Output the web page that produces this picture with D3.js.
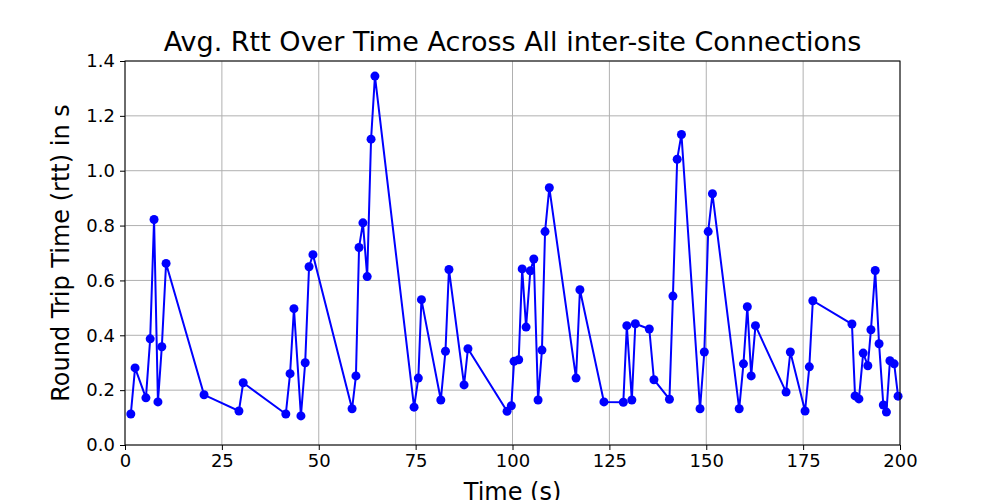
<!DOCTYPE html>
<html><head><meta charset="utf-8">
<script src="https://cdn.jsdelivr.net/npm/d3@7"></script>
<style>body{margin:0;background:#fff}text{font-family:"DejaVu Sans",sans-serif}</style>
</head><body><svg id="c" width="1000" height="500"></svg>
<script>
const times=[1.5,2.6,5.4,6.5,7.5,8.5,9.5,10.6,20.4,29.4,30.5,41.5,42.6,43.6,45.4,46.5,47.5,48.5,58.6,59.6,60.4,61.4,62.5,63.5,64.5,
74.6,75.7,76.5,81.5,82.7,83.6,87.5,88.5,98.6,99.7,100.4,101.6,102.5,103.5,104.6,105.5,106.6,107.6,108.4,109.5,116.4,117.4,123.6,128.6,129.5,130.8,131.7,135.3,
136.5,140.5,141.4,142.5,143.6,148.4,149.5,150.5,151.6,158.5,159.6,160.6,161.6,162.7,170.6,171.7,175.5,176.6,177.5,187.6,188.4,189.4,190.5,191.7,192.5,193.6,194.6,195.7,196.5,197.4,198.5,199.5];
const rtt=[0.113,0.281,0.172,0.387,0.822,0.157,0.358,0.662,0.183,0.124,0.227,0.113,0.26,0.497,0.106,0.30,0.65,0.694,0.132,0.252,0.72,0.81,0.614,1.115,1.345,
0.138,0.244,0.530,0.164,0.342,0.64,0.219,0.351,0.123,0.143,0.305,0.311,0.642,0.43,0.635,0.678,0.164,0.346,0.778,0.938,0.244,0.566,0.157,0.156,0.435,0.164,0.442,0.423,
0.238,0.167,0.543,1.042,1.132,0.132,0.339,0.778,0.916,0.132,0.296,0.504,0.252,0.435,0.193,0.339,0.124,0.285,0.526,0.441,0.179,0.168,0.335,0.289,0.42,0.636,0.369,0.146,0.12,0.307,0.296,0.178];
const xTicks=[0,25,50,75,100,125,150,175,200];
const yTicks=[0,0.2,0.4,0.6,0.8,1.0,1.2,1.4];
const svg=d3.select("#c");
const L=125,R=900,T=61,B=445;
const x=d3.scaleLinear().domain([0,200]).range([L,R]);
const y=d3.scaleLinear().domain([0,1.4]).range([B,T]);
const g=svg.append("g");
g.selectAll(".gx").data(xTicks).join("line").attr("x1",d=>x(d)).attr("x2",d=>x(d)).attr("y1",T).attr("y2",B).attr("stroke","#b0b0b0").attr("stroke-width",1);
g.selectAll(".gy").data(yTicks).join("line").attr("y1",d=>y(d)).attr("y2",d=>y(d)).attr("x1",L).attr("x2",R).attr("stroke","#b0b0b0").attr("stroke-width",1);
const data=times.map((t,i)=>[t,rtt[i]]);
svg.append("path").datum(data).attr("d",d3.line().x(d=>x(d[0])).y(d=>y(d[1]))).attr("fill","none").attr("stroke","#0000ff").attr("stroke-width",2);
svg.selectAll("circle").data(data).join("circle").attr("cx",d=>x(d[0])).attr("cy",d=>y(d[1])).attr("r",4.5).attr("fill","#0000ff");
const ax=svg.append("g").attr("transform",`translate(0,${B})`).call(d3.axisBottom(x).tickValues(xTicks).tickSize(5).tickPadding(4));
const ay=svg.append("g").attr("transform",`translate(${L},0)`).call(d3.axisLeft(y).tickValues(yTicks).tickFormat(d3.format(".1f")).tickSize(5).tickPadding(5));
[ax,ay].forEach(a=>{a.selectAll("text").style("font-size","18px").attr("fill","#000");a.select(".domain").remove();a.selectAll("line").attr("stroke","#000");});
svg.append("rect").attr("x",L).attr("y",T).attr("width",R-L).attr("height",B-T).attr("fill","none").attr("stroke","#000").attr("stroke-width",1);
svg.append("text").attr("x",(L+R)/2).attr("y",51).attr("text-anchor","middle").style("font-size","27px").text("Avg. Rtt Over Time Across All inter-site Connections");
svg.append("text").attr("x",(L+R)/2).attr("y",500).attr("text-anchor","middle").style("font-size","24px").text("Time (s)");
svg.append("text").attr("transform",`translate(69,${(T+B)/2}) rotate(-90)`).attr("text-anchor","middle").style("font-size","24px").text("Round Trip Time (rtt) in s");
</script></body></html>
